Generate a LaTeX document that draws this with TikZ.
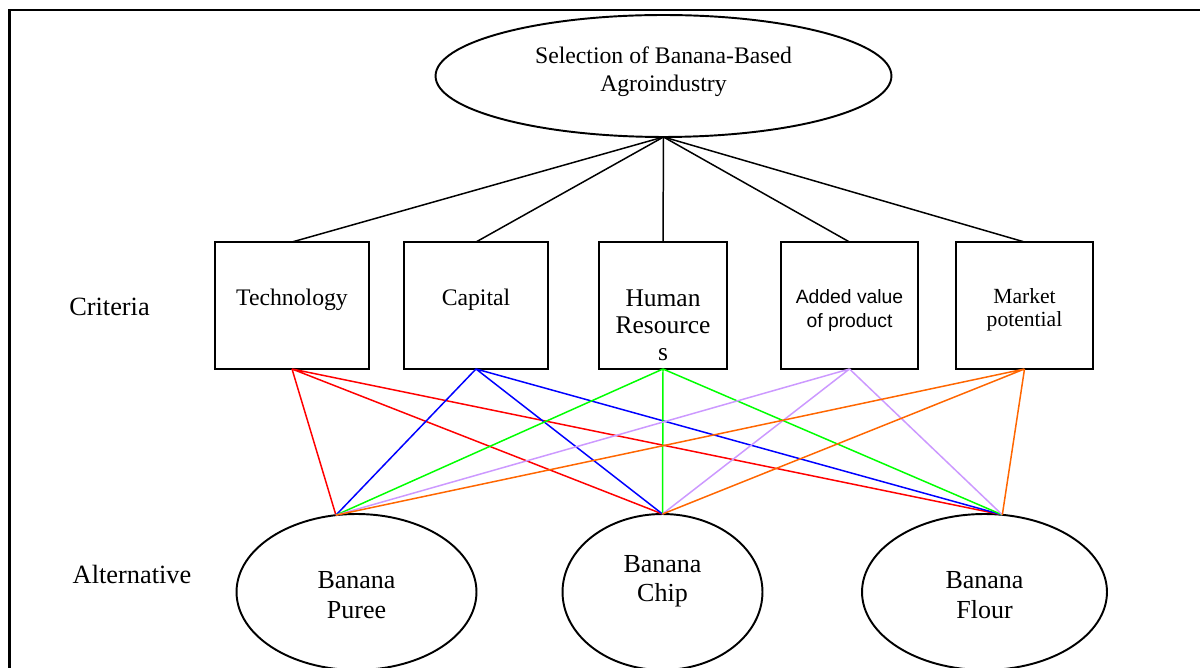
\documentclass[tikz,border=0pt]{standalone}
\usepackage{fontspec}
\setmainfont{Liberation Serif}
\newfontfamily\arialfont{Liberation Sans}
\usetikzlibrary{shapes.geometric}
\definecolor{lilac}{RGB}{204,153,255}
\definecolor{orng}{RGB}{255,102,0}
\definecolor{grn}{RGB}{0,255,0}

\begin{document}
\begin{tikzpicture}[x=0.02cm,y=-0.02cm,
  crit/.style={draw,line width=1.1pt,inner sep=0,outer sep=0,minimum height=2.54cm},
  alt/.style={draw,ellipse,line width=1.1pt,inner sep=0,outer sep=0,minimum height=3.12cm},
  txt/.style={anchor=base,inner sep=0,align=center,font=\fontsize{13.5}{16.2}\selectfont},
  link/.style={line width=0.85pt}]
\useasboundingbox (0,0) rectangle (1200,668);
\clip (0,0) rectangle (1200,668);
\draw [line width=1.15pt] (9.5,700) -- (9.5,10) -- (1250,10);

% goal
\node [alt,minimum width=9.12cm,minimum height=2.44cm] (goal) at (663.5,76) {};
\node [txt] (goaltext) at (663.5,92) {Selection of Banana-Based\\Agroindustry};

% criteria (text placed by its last baseline)
\node [crit,minimum width=3.08cm] (tech) at (292,305.5) {};
\node [crit,minimum width=2.88cm] (cap) at (476,305.5) {};
\node [crit,minimum width=2.56cm] (hum) at (663,305.5) {};
\node [crit,minimum width=2.74cm] (add) at (849.5,305.5) {};
\node [crit,minimum width=2.74cm] (mkt) at (1024.5,305.5) {};
\node [txt] (techtext) at (292,306) {Technology};
\node [txt] (captext) at (476,306) {Capital};
\node [txt,font=\fontsize{14.5}{15.6}\selectfont] (humtext) at (663,361) {Human\\Resource\\s};
\node [txt,font=\arialfont\fontsize{11}{13.7}\selectfont] (addtext) at (849.5,328) {Added value\\of product};
\node [txt,font=\fontsize{12.3}{13.4}\selectfont] (mkttext) at (1024.5,327) {Market\\potential};
\node [txt,font=\fontsize{15}{18}\selectfont] (crlabel) at (109.5,316) {Criteria};

% alternatives
\node [alt,minimum width=4.8cm] (puree) at (356.5,592) {};
\node [alt,minimum width=4cm] (chip) at (662.5,592) {};
\node [alt,minimum width=4.9cm] (flour) at (984.5,592) {};
\node [txt,font=\fontsize{14.8}{17}\selectfont] (pureetext) at (356.5,618) {Banana\\Puree};
\node [txt,font=\fontsize{14.8}{17}\selectfont] (chiptext) at (662.5,602) {Banana\\Chip};
\node [txt,font=\fontsize{14.8}{17}\selectfont] (flourtext) at (984.5,618) {Banana\\Flour};
\node [txt,font=\fontsize{15}{18}\selectfont] (altlabel) at (132,583) {Alternative};

\foreach \c in {tech,cap,hum,add,mkt}
  \draw [link] (goal.south) -- (\c.north);
\foreach \c/\col in {tech/red,cap/blue,hum/grn,add/lilac,mkt/orng}
  \draw [link,\col] (\c.south) -- (puree.105) (\c.south) -- (chip.north) (\c.south) -- (flour.77);
\end{tikzpicture}
\end{document}
